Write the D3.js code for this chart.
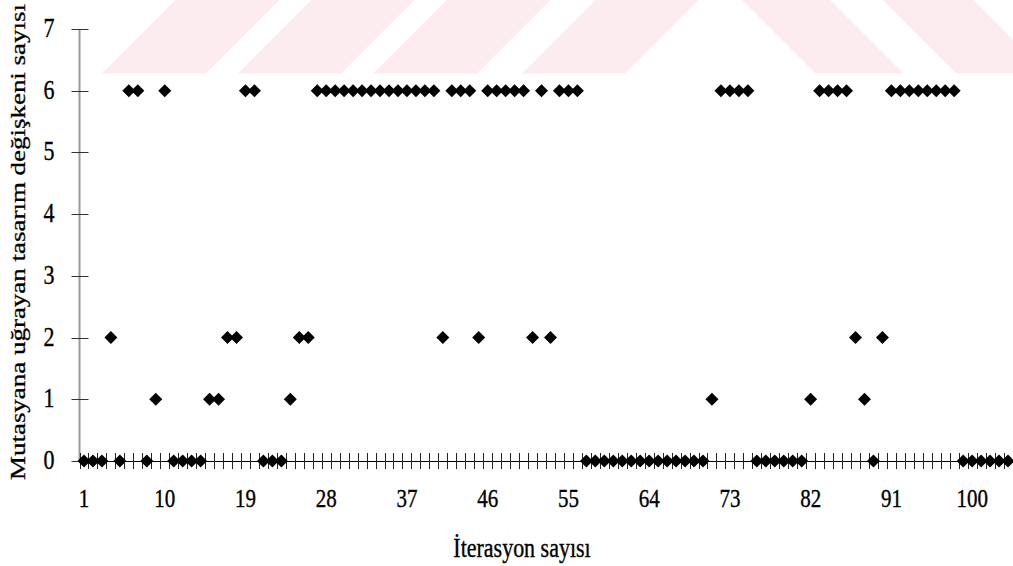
<!DOCTYPE html>
<html>
<head>
<meta charset="utf-8">
<script src="https://cdn.jsdelivr.net/npm/d3@7"></script>
<style>
  html, body { margin: 0; padding: 0; background: #fff; }
  svg { display: block; }
  text { font-family: "Liberation Serif", "Times New Roman", serif; fill: #000; stroke: #000; stroke-width: 0.3px; }
</style>
</head>
<body>
<svg id="chart" width="1013" height="566"></svg>
<script>
// Number of mutated design variables at each iteration
const values = [
  0, 0, 0, 2, 0, 6, 6, 0, 1, 6,
  0, 0, 0, 0, 1, 1, 2, 2, 6, 6,
  0, 0, 0, 1, 2, 2, 6, 6, 6, 6,
  6, 6, 6, 6, 6, 6, 6, 6, 6, 6,
  2, 6, 6, 6, 2, 6, 6, 6, 6, 6,
  2, 6, 2, 6, 6, 6, 0, 0, 0, 0,
  0, 0, 0, 0, 0, 0, 0, 0, 0, 0,
  1, 6, 6, 6, 6, 0, 0, 0, 0, 0,
  0, 1, 6, 6, 6, 6, 2, 1, 0, 2,
  6, 6, 6, 6, 6, 6, 6, 6, 0, 0,
  0, 0, 0, 0
];
const iterations = values.map((_, i) => i + 1);
const xTickLabels = [1, 10, 19, 28, 37, 46, 55, 64, 73, 82, 91, 100];
const yTickLabels = [0, 1, 2, 3, 4, 5, 6, 7];
const xTitle = "İterasyon sayısı";
const yTitle = "Mutasyana uğrayan tasarım değişkeni sayısı";

const svg = d3.select("#chart");
const tall = 1.2; // glyphs in this figure are drawn slightly taller than wide

// faint pink striped band across the top
const band = svg.append("g").attr("fill", "#fdecef");
const bandH = 73.5;
const rising = [[102, 206], [238, 341], [373, 477], [522, 625]];
const falling = [[742, 830], [883, 973]];
rising.forEach(([a, b]) => {
  band.append("polygon").attr("points",
    `${a},${bandH} ${b},${bandH} ${b + bandH},0 ${a + bandH},0`);
});
falling.forEach(([a, b]) => {
  band.append("polygon").attr("points",
    `${a},0 ${b},0 ${b + bandH},${bandH} ${a + bandH},${bandH}`);
});

const x = d3.scaleBand().domain(iterations).range([79.5, 1012.5]).padding(0);
const y = d3.scaleLinear().domain([0, 7]).range([461, 29]);
const cx = d => x(d) + x.bandwidth() / 2;

// y axis: grey spine with crossing ticks
svg.append("line")
  .attr("x1", 79.5).attr("x2", 79.5)
  .attr("y1", y(7)).attr("y2", y(0))
  .attr("stroke", "#9a9a9a").attr("stroke-width", 2);
const yAxis = svg.append("g");
yAxis.selectAll("line.tick").data(yTickLabels).join("line")
  .attr("class", "tick")
  .attr("x1", 71.5).attr("x2", 88.5)
  .attr("y1", d => Math.round(y(d)) + 0.5).attr("y2", d => Math.round(y(d)) + 0.5)
  .attr("stroke", "#333").attr("stroke-width", 1);
yAxis.selectAll("text").data(yTickLabels).join("text")
  .attr("transform", d => `translate(49,${y(d) + 8}) scale(1,${tall})`)
  .attr("text-anchor", "middle")
  .attr("font-size", 22)
  .text(d => d);

// x axis: baseline with a tick at every category boundary
svg.append("line")
  .attr("x1", 79.5).attr("x2", 1013)
  .attr("y1", 461.5).attr("y2", 461.5)
  .attr("stroke", "#000").attr("stroke-width", 1);
const bounds = iterations.map(d => x(d)).concat([x.range()[1]]);
svg.append("g").selectAll("line").data(bounds).join("line")
  .attr("x1", d => Math.round(d) + 0.5).attr("x2", d => Math.round(d) + 0.5)
  .attr("y1", 453).attr("y2", 469)
  .attr("stroke", "#222").attr("stroke-width", 1);
svg.append("g").selectAll("text").data(xTickLabels).join("text")
  .attr("transform", d => `translate(${cx(d)},507) scale(1,${tall})`)
  .attr("text-anchor", "middle")
  .attr("font-size", 21)
  .text(d => d);

// diamond markers
const diamond = "M0,-6.5L6.5,0L0,6.5L-6.5,0Z";
svg.append("g").selectAll("path").data(iterations).join("path")
  .attr("transform", d => `translate(${cx(d)},${y(values[d - 1])})`)
  .attr("d", diamond)
  .attr("fill", "#000");

// axis titles
svg.append("text")
  .attr("transform", `translate(522,557) scale(1,${tall})`)
  .attr("text-anchor", "middle")
  .attr("font-size", 22)
  .text(xTitle);
svg.append("text")
  .attr("transform", "translate(25,242) rotate(-90)")
  .attr("text-anchor", "middle")
  .attr("font-size", 22)
  .attr("textLength", 476)
  .attr("lengthAdjust", "spacingAndGlyphs")
  .text(yTitle);
</script>
</body>
</html>
